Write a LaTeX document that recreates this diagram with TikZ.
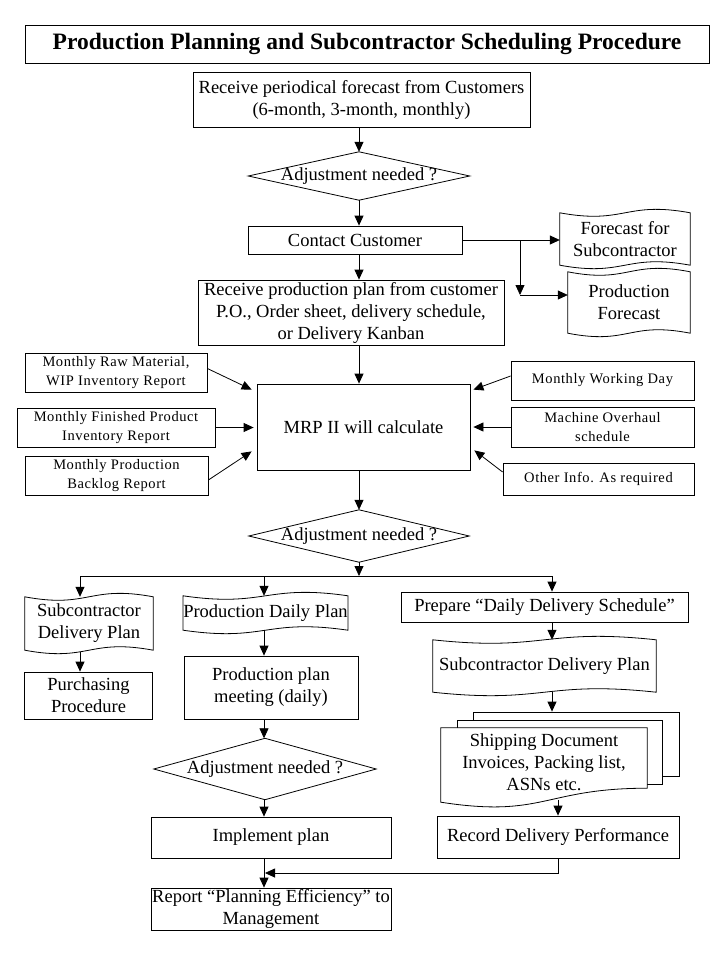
\documentclass[tikz,border=0pt]{standalone}
\usepackage{fontspec}
\setmainfont{Liberation Serif}
\newfontfamily\inputfont[LetterSpace=4]{Liberation Serif}
\usetikzlibrary{arrows.meta,calc}
\pgfdeclarelayer{back}
\pgfdeclarelayer{bg}
\pgfsetlayers{back,bg,main}
\tikzset{
 box/.style={draw, line width=0.8pt, inner sep=0pt, align=center, font=\fontsize{18.5}{22}\selectfont},
 plain/.style={inner sep=0pt, align=center, font=\fontsize{18.5}{22}\selectfont},
 inbox/.style={draw, line width=0.8pt, inner sep=0pt, align=center, font=\inputfont\fontsize{14.5}{19}\selectfont},
 arr/.style={line width=0.8pt, -{Triangle[length=10pt,width=9pt]}},
 ln/.style={line width=0.8pt},
}
\newcommand\tapedoc[1]{\draw[ln] (#1.north west) .. controls ($(#1.north)+(0,12)$) and ($(#1.north)+(0,-12)$) .. (#1.north east) -- (#1.south east) .. controls ($(#1.south)+(0,-12)$) and ($(#1.south)+(0,12)$) .. (#1.south west) -- cycle;}
\newcommand\diamondshape[1]{\draw[ln] (#1.north) -- (#1.east) -- (#1.south) -- (#1.west) -- cycle;}
\begin{document}
\begin{tikzpicture}[x=1pt,y=-1pt]
\begin{pgfonlayer}{back}
\fill[white] (0,0) rectangle (719,959);
\end{pgfonlayer}
\useasboundingbox (0,0) rectangle (719,959);

% title
\node[box, font=\bfseries\fontsize{23.5}{28}\selectfont, minimum width=684pt, minimum height=38pt] (title) at (367,44) {Production Planning and Subcontractor Scheduling Procedure};

% main column
\node[box, minimum width=337pt, minimum height=55pt] (fc) at (361.5,99.5) {Receive periodical forecast from Customers\\(6-month, 3-month, monthly)};
\node[plain, minimum width=221pt, minimum height=48pt] (d1) at (359,176) {Adjustment needed ?};
\diamondshape{d1}
\node[box, minimum width=214pt, minimum height=28pt] (cc) at (355,240) {Contact Customer};
\node[plain, minimum width=130pt, minimum height=52pt] (fs) at (625,239) {Forecast for\\Subcontractor};
\tapedoc{fs}
\node[plain, minimum width=122pt, minimum height=61pt] (pf) at (629,302.5) {Production\\Forecast};
\tapedoc{pf}
\node[box, minimum width=306pt, minimum height=65pt] (rp) at (351,312.5) {Receive production plan from customer\\P.O., Order sheet, delivery schedule,\\or Delivery Kanban};
\node[box, minimum width=213pt, minimum height=86pt] (mrp) at (363.5,427) {MRP II will calculate};
\node[plain, minimum width=220pt, minimum height=52pt] (d2) at (359,536) {Adjustment needed ?};
\diamondshape{d2}

% inputs
\node[inbox, minimum width=182pt, minimum height=39pt] (in1) at (116,372.5) {Monthly Raw Material,\\WIP Inventory Report};
\node[inbox, minimum width=198pt, minimum height=39pt] (in2) at (116,427.5) {Monthly Finished Product\\Inventory Report};
\node[inbox, minimum width=183pt, minimum height=39pt] (in3) at (116.5,475.5) {Monthly Production\\Backlog Report};
\node[inbox, minimum width=183pt, minimum height=39pt] (in4) at (602.5,380.5) {Monthly Working Day};
\node[inbox, minimum width=183pt, minimum height=40pt] (in5) at (602.5,427) {Machine Overhaul\\schedule};
\node[inbox, minimum width=191pt, minimum height=32pt] (in6) at (598.5,479) {Other Info. As required};

% left column
\node[plain, minimum width=128pt, minimum height=53pt] (sdp1) at (89,623.5) {Subcontractor\\Delivery Plan};
\tapedoc{sdp1}
\node[box, minimum width=128pt, minimum height=47pt] (pur) at (88.5,695.5) {Purchasing\\Procedure};

% middle column
\node[plain, minimum width=163pt, minimum height=34pt] (pdp) at (265.5,613) {Production Daily Plan};
\tapedoc{pdp}
\node[box, minimum width=174pt, minimum height=63pt] (ppm) at (271,687.5) {Production plan\\meeting (daily)};
\node[plain, minimum width=222pt, minimum height=61pt] (d3) at (265,769) {Adjustment needed ?};
\diamondshape{d3}
\node[box, minimum width=240pt, minimum height=41pt] (impl) at (271,837.5) {Implement plan};
\node[box, minimum width=240pt, minimum height=42pt] (rep) at (271,909) {Report “Planning Efficiency” to\\Management};

% right column
\node[box, minimum width=287pt, minimum height=30pt] (prep) at (544.5,607) {Prepare “Daily Delivery Schedule”};
\node[plain, minimum width=223pt, minimum height=52pt] (sdp2) at (544.5,666) {Subcontractor Delivery Plan};
\tapedoc{sdp2}
\node[plain, minimum width=206pt, minimum height=68pt] (ship) at (544,762) {Shipping Document\\Invoices, Packing list,\\ASNs etc.};
\begin{pgfonlayer}{bg}
\node[box, fill=white, minimum width=206pt, minimum height=64pt] (sb) at (576,744) {};
\node[box, fill=white, minimum width=205pt, minimum height=64pt] (sm) at (559.5,752) {};
\filldraw[ln, fill=white] (ship.north west) -- (ship.north east) -- ($(ship.south east)+(0,-8)$) .. controls ($(ship.south)+(0,-8)$) and ($(ship.south)+(0,22)$) .. ($(ship.south west)+(0,6)$) -- cycle;
\end{pgfonlayer}
\node[box, minimum width=242pt, minimum height=42pt] (rec) at (558,837) {Record Delivery Performance};

% connectors: main column
\coordinate (mc) at (359,0);
\draw[arr] (fc.south -| mc) -- (d1.north);
\draw[arr] (d1.south) -- (d1.south |- cc.north);
\draw[arr] (cc.south -| mc) -- (rp.north -| mc);
\draw[arr] (rp.south -| mc) -- (mrp.north -| mc);
\draw[arr] (mrp.south -| mc) -- (d2.north);

% contact customer branches
\coordinate (j) at (520,240);
\coordinate (k) at (520,295);
\draw[arr] (cc.east) -- (cc.east -| fs.west);
\draw[arr] (j) -- (k);
\draw[arr] (k) -- (k -| pf.west);

% inputs to MRP
\draw[arr] ($(in1.east)+(0,-4)$) -- ($(mrp.north west)+(-5,6)$);
\draw[arr] (in2.east) -- ($(in2.east -| mrp.west)+(-3,0)$);
\draw[arr] ($(in3.east)+(0,4.5)$) -- ($(mrp.south west)+(-5,-19)$);
\draw[arr] ($(in4.west)+(0,-4.5)$) -- ($(mrp.north east)+(3,6)$);
\draw[arr] (in5.west) -- ($(in5.west -| mrp.east)+(3,0)$);
\draw[arr] ($(in6.west)+(0,-7)$) -- ($(mrp.south east)+(4,-20)$);

% branching after second decision
\coordinate (bl) at (80,576);
\coordinate (bm) at (264,576);
\coordinate (br) at (552,576);
\draw[arr] (d2.south) -- (d2.south |- bl);
\draw[ln] (bl) -- (br);
\draw[arr] (bl) -- (bl |- sdp1.north);
\draw[arr] ($(bl |- sdp1.south)+(0,2)$) -- (bl |- pur.north);
\draw[arr] (bm) -- (bm |- pdp.north);
\draw[arr] (bm |- pdp.south) -- (bm |- ppm.north);
\draw[arr] (bm |- ppm.south) -- (bm |- d3.north);
\draw[arr] (bm |- d3.south) -- (bm |- impl.north);
\draw[arr] (bm |- impl.south) -- (bm |- rep.north);
\draw[arr] (br) -- (br |- prep.north);
\draw[arr] (br |- prep.south) -- (br |- sdp2.north);
\draw[arr] (br |- sdp2.south) -- (br |- sb.north);
\draw[arr] ($(rec.north |- ship.south)+(0,4)$) -- (rec.north);
\coordinate (jm) at (265,873);
\draw[arr] (rec.south) |- (jm);
\end{tikzpicture}
\end{document}
